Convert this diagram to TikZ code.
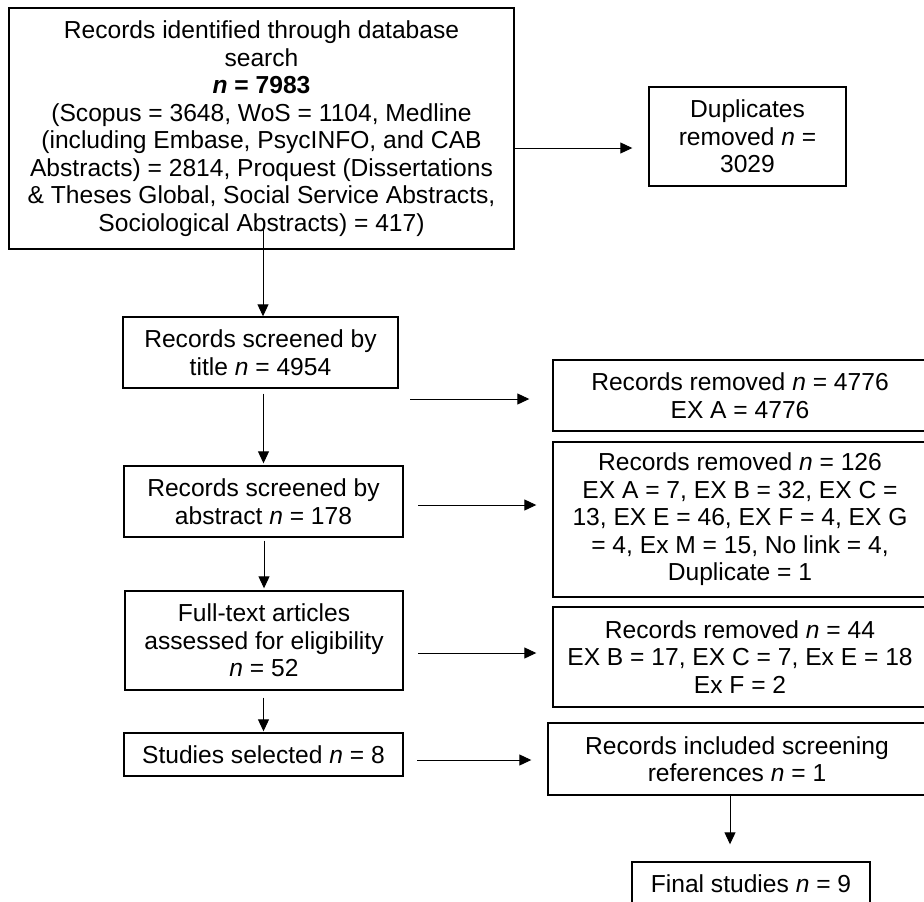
\documentclass[tikz,border=0pt]{standalone}
\usepackage{fontspec}
\setmainfont{Liberation Sans}
\usetikzlibrary{arrows.meta}
\begin{document}
\begin{tikzpicture}[x=1pt,y=-1pt,
  box/.style={draw,line width=1.4pt,rectangle,inner sep=0pt,align=center,
    font=\fontsize{24.6}{27.5}\selectfont},
  arr/.style={line width=1pt,-{Triangle[length=12pt,width=11pt]}}]
\useasboundingbox (0,0) rectangle (924,902);
\node[box,minimum width=505pt,minimum height=241pt] (b1) at (261.5,128.5)
  {Records identified through database\\ search\\ \textbf{\textit{n} = 7983}\\
   (Scopus = 3648, WoS = 1104, Medline\\ (including Embase, PsycINFO, and CAB\\
   Abstracts) = 2814, Proquest (Dissertations\\ \& Theses Global, Social Service Abstracts,\\
   Sociological Abstracts) = 417)};
\node[box,minimum width=197pt,minimum height=99pt] (dup) at (747.5,136.5)
  {Duplicates\\ removed \textit{n} =\\ 3029};
\node[box,minimum width=275pt,minimum height=71pt] (b2) at (260.5,352.5)
  {Records screened by\\ title \textit{n} = 4954};
\node[box,minimum width=279pt,minimum height=71pt] (b3) at (263.5,501.5)
  {Records screened by\\ abstract \textit{n} = 178};
\node[box,minimum width=278pt,minimum height=99pt] (b4) at (264,640.5)
  {Full-text articles\\ assessed for eligibility\\ \textit{n} = 52};
\node[box,minimum width=279pt,minimum height=43pt] (b5) at (263.5,754.5)
  {Studies selected \textit{n} = 8};
\node[box,minimum width=374pt,minimum height=71pt] (r1) at (740,395.5)
  {Records removed \textit{n} = 4776\\ EX A = 4776};
\node[box,minimum width=374pt,minimum height=155pt] (r2) at (740,519.5)
  {Records removed \textit{n} = 126\\ EX A = 7, EX B = 32, EX C =\\
   13, EX E = 46, EX F = 4, EX G\\ = 4, Ex M = 15, No link = 4,\\ Duplicate = 1};
\node[box,minimum width=374pt,minimum height=100pt] (r3) at (740,657)
  {Records removed \textit{n} = 44\\ EX B = 17, EX C = 7, Ex E = 18\\ Ex F = 2};
\node[box,minimum width=378pt,minimum height=72pt] (inc) at (737,759)
  {Records included screening\\ references \textit{n} = 1};
\node[box,minimum width=238pt,minimum height=43pt] (fin) at (751,883.5)
  {Final studies \textit{n} = 9};
% connector start points
\coordinate (v1) at (263,230);
\coordinate (v5) at (730,795);
\coordinate (h1) at (514,148);
\coordinate (h2) at (410,399);
\coordinate (h3) at (418,505);
\coordinate (h4) at (418,653);
\coordinate (h5) at (417,760);
% vertical arrows
\draw[arr] (v1) -- (v1 |- b2.north);
\draw[arr,shorten <=5pt,shorten >=2pt] (b2.south -| b3.north) -- (b3.north);
\draw[arr,shorten <=3pt,shorten >=2pt] (b3.south -| b4.north) -- (b4.north);
\draw[arr,shorten <=7pt,shorten >=1pt] (b4.south -| b5.north) -- (b5.north);
\draw[arr,shorten >=17pt] (v5) -- (v5 |- fin.north);
% horizontal arrows
\draw[arr,shorten >=16pt] (h1) -- (h1 -| dup.west);
\draw[arr,shorten >=23pt] (h2) -- (h2 -| r1.west);
\draw[arr,shorten >=16pt] (h3) -- (h3 -| r2.west);
\draw[arr,shorten >=16pt] (h4) -- (h4 -| r3.west);
\draw[arr,shorten >=16pt] (h5) -- (h5 -| inc.west);
\end{tikzpicture}
\end{document}
